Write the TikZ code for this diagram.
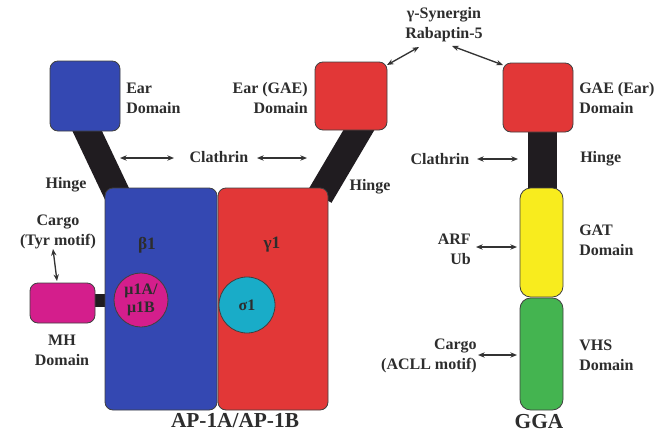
\documentclass[tikz,border=0pt]{standalone}
\usepackage{fontspec}
\setmainfont{Liberation Serif}
\usetikzlibrary{arrows.meta}
\definecolor{apblue}{RGB}{52,72,178}
\definecolor{apred}{RGB}{226,55,55}
\definecolor{apmag}{RGB}{212,30,140}
\definecolor{apcyan}{RGB}{25,172,200}
\definecolor{apyellow}{RGB}{248,236,30}
\definecolor{apgreen}{RGB}{68,180,80}
\definecolor{hingeblack}{RGB}{32,28,32}
\definecolor{txtgray}{RGB}{45,45,45}
\begin{document}
\begin{tikzpicture}[x=0.75pt,y=-0.75pt,
  lbl/.style={font=\bfseries\fontsize{12}{15}\selectfont, text=txtgray, inner sep=0pt},
  big/.style={font=\bfseries\fontsize{16}{18}\selectfont, text=txtgray, inner sep=0pt},
  box/.style={draw=black!75, line width=0.6pt, rounded corners=6pt, inner sep=0pt},
  circ/.style={circle, draw=black!75, line width=0.6pt, inner sep=0pt},
  hinge/.style={draw=hingeblack, line width=20pt},
  dbl/.style={{Stealth[length=5pt,width=4pt]}-{Stealth[length=5pt,width=4pt]}, line width=1pt, draw=black!80}]
\useasboundingbox (0,0) rectangle (664,432);
\fill[white] (0,0) rectangle (664,432);

% boxes (named) -- hinges drawn behind afterwards via layering order
\coordinate (hLtop) at (81,118);
\coordinate (hLbot) at (118,196);
\coordinate (hRtop) at (366,118);
\coordinate (hRbot) at (320,196);
\coordinate (hGtop) at (542.5,125);
\coordinate (hGbot) at (542.5,198);
\coordinate (mhA) at (92,300.5);
\coordinate (mhB) at (122,300.5);
\draw[hinge] (hLtop) -- (hLbot);
\draw[hinge] (hRtop) -- (hRbot);
\draw[hingeblack, line width=21.75pt] (hGtop) -- (hGbot);
\draw[hingeblack, line width=9.75pt] (mhA) -- (mhB);

\node[box, fill=apblue, minimum width=52.5pt, minimum height=52.5pt] (earB) at (85,96) {};
\node[box, fill=apred, minimum width=54pt, minimum height=51pt] (earM) at (351,96) {};
\node[box, fill=apred, minimum width=52.5pt, minimum height=51.75pt] (earG) at (538,97.5) {};

\node[box, fill=apblue, minimum width=84pt, minimum height=166.5pt] (beta) at (161,299) {};
\node[box, fill=apred, minimum width=82.5pt, minimum height=166.5pt] (gamma) at (273,299) {};
\node[box, fill=apmag, minimum width=48.75pt, minimum height=30pt] (mh) at (62.5,303) {};
\node[circ, fill=apmag, minimum size=40.5pt, font=\bfseries\fontsize{12}{14}\selectfont, text=txtgray, align=center] (mu) at (141,300) {μ1A/\\μ1B};
\node[circ, fill=apcyan, minimum size=42pt, font=\bfseries\fontsize{12}{14}\selectfont, text=txtgray] (sigma) at (247,305) {σ1};

\node[box, fill=apyellow, minimum width=32.25pt, minimum height=81.75pt, rounded corners=8pt] (gat) at (541.5,242.5) {};
\node[box, fill=apgreen, minimum width=32.25pt, minimum height=84pt, rounded corners=8pt] (vhs) at (541.5,354) {};

% labels
\node[lbl, anchor=west, align=left] (earBl) at (126,98) {Ear\\Domain};
\node[lbl, anchor=east, align=right] (earMl) at (308,98) {Ear (GAE)\\Domain};
\node[lbl, anchor=west, align=left] (earGl) at (579,98) {GAE (Ear)\\Domain};
\node[lbl, align=center] (syn) at (444,25) {γ-Synergin\\Rabaptin-5};
\node[lbl] (clA) at (219,157) {Clathrin};
\node[lbl] (hingeL) at (66,185) {Hinge};
\node[lbl] (hingeR) at (370,187) {Hinge};
\node[lbl] (clG) at (440,159) {Clathrin};
\node[lbl, anchor=west] (hingeG) at (580,159) {Hinge};
\node[lbl, font=\bfseries\fontsize{13}{15}\selectfont] (betal) at (147,245) {β1};
\node[lbl, font=\bfseries\fontsize{13}{15}\selectfont] (gammal) at (272,245) {γ1};
\node[lbl, align=center] (cargoL) at (58,232) {Cargo\\(Tyr motif)};
\node[lbl, align=center] (mhl) at (62,350) {MH\\Domain};
\node[lbl, anchor=west, align=left] (gatl) at (579,240) {GAT\\Domain};
\node[lbl, anchor=east, align=right] (arfl) at (471,249) {ARF\\Ub};
\node[lbl, anchor=west, align=left] (vhsl) at (579,355) {VHS\\Domain};
\node[lbl, anchor=east, align=right] (cargoR) at (477,356) {Cargo\\(ACLL motif)};
\node[big] (ap) at (235,421) {AP-1A/AP-1B};
\node[big] (gga) at (539,422) {GGA};

% arrows
\coordinate (a1a) at (120,158); \coordinate (a1b) at (174,158);
\coordinate (a2a) at (257,158); \coordinate (a2b) at (307,158);
\coordinate (a3a) at (419,47);  \coordinate (a3b) at (387,65);
\coordinate (a4a) at (452,46);  \coordinate (a4b) at (503,65);
\coordinate (a5a) at (477,159); \coordinate (a5b) at (518,159);
\coordinate (a6a) at (476,247); \coordinate (a6b) at (517,247);
\coordinate (a7a) at (478,355); \coordinate (a7b) at (517,355);
\coordinate (a8a) at (53,249);  \coordinate (a8b) at (57,281);
\draw[dbl] (a1a) -- (a1b);
\draw[dbl] (a2a) -- (a2b);
\draw[dbl] (a3a) -- (a3b);
\draw[dbl] (a4a) -- (a4b);
\draw[dbl] (a5a) -- (a5b);
\draw[dbl] (a6a) -- (a6b);
\draw[dbl] (a7a) -- (a7b);
\draw[dbl] (a8a) -- (a8b);
\end{tikzpicture}
\end{document}
